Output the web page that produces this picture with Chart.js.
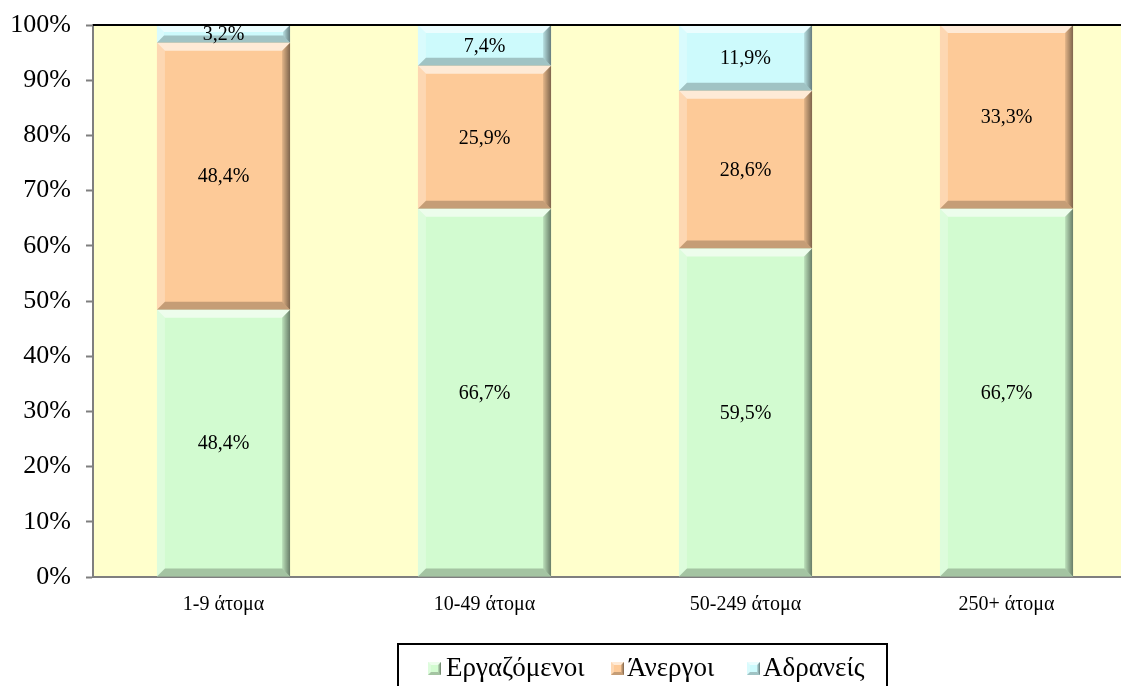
<!DOCTYPE html>
<html>
<head>
<meta charset="utf-8">
<script src="https://cdn.jsdelivr.net/npm/chart.js@4.4.1/dist/chart.umd.min.js"></script>
<style>
html,body{margin:0;padding:0;background:#fff;overflow:hidden;}
#wrap{position:relative;width:1145px;height:686px;}
</style>
</head>
<body>
<div id="wrap"><canvas id="c"></canvas></div>
<script>
const categories = ['1-9 άτομα', '10-49 άτομα', '50-249 άτομα', '250+ άτομα'];
const employed = [48.4, 66.7, 59.5, 66.7];
const unemployed = [48.4, 25.9, 28.6, 33.3];
const inactive = [3.2, 7.4, 11.9, 0];
const seriesNames = ['Εργαζόμενοι', 'Άνεργοι', 'Αδρανείς'];
const seriesColors = ['#d2fbd0', '#fdca98', '#cdfafc'];
const yTicks = [0,10,20,30,40,50,60,70,80,90,100];

const SERIF = '"Liberation Serif","Times New Roman",serif';

const bgPlugin = {
  id: 'bg',
  beforeDraw(chart) {
    const {ctx, chartArea: a} = chart;
    ctx.save();
    ctx.fillStyle = '#ffffcc';
    ctx.fillRect(a.left, a.top, a.right - a.left, a.bottom - a.top);
    ctx.restore();
  },
  afterDraw(chart) {
    const {ctx, chartArea: a} = chart;
    ctx.save();
    ctx.strokeStyle = '#000';
    ctx.lineWidth = 2;
    ctx.beginPath();
    ctx.moveTo(a.left, a.top);
    ctx.lineTo(a.right, a.top);
    ctx.stroke();
    ctx.restore();
  }
};

function bevel(ctx, l, t, r, b, s) {
  ctx.fillStyle = 'rgba(255,255,255,0.6)';
  ctx.beginPath();
  ctx.moveTo(l, t); ctx.lineTo(r, t); ctx.lineTo(r - s, t + s); ctx.lineTo(l + s, t + s); ctx.closePath(); ctx.fill();
  ctx.fillStyle = 'rgba(255,255,255,0.25)';
  ctx.beginPath();
  ctx.moveTo(l, t); ctx.lineTo(l + s, t + s); ctx.lineTo(l + s, b - s); ctx.lineTo(l, b); ctx.closePath(); ctx.fill();
  const g = ctx.createLinearGradient(r - s, 0, r, 0);
  g.addColorStop(0, 'rgba(0,0,0,0.1)');
  g.addColorStop(1, 'rgba(0,0,0,0.5)');
  ctx.fillStyle = g;
  ctx.beginPath();
  ctx.moveTo(r, t); ctx.lineTo(r, b); ctx.lineTo(r - s, b - s); ctx.lineTo(r - s, t + s); ctx.closePath(); ctx.fill();
  ctx.fillStyle = 'rgba(0,0,0,0.22)';
  ctx.beginPath();
  ctx.moveTo(l, b); ctx.lineTo(r, b); ctx.lineTo(r - s, b - s); ctx.lineTo(l + s, b - s); ctx.closePath(); ctx.fill();
}

const bevelPlugin = {
  id: 'bevel',
  afterDatasetsDraw(chart) {
    const ctx = chart.ctx;
    chart.data.datasets.forEach((ds, di) => {
      const meta = chart.getDatasetMeta(di);
      meta.data.forEach((bar, i) => {
        if (!ds.data[i]) return;
        const l = bar.x - bar.width / 2, r = bar.x + bar.width / 2;
        const t = Math.min(bar.y, bar.base), b = Math.max(bar.y, bar.base);
        const s = Math.min(8, (b - t) / 2.5);
        ctx.save();
        bevel(ctx, l, t, r, b, s);
        ctx.restore();
      });
    });
  }
};

const labelPlugin = {
  id: 'vals',
  afterDatasetsDraw(chart) {
    const ctx = chart.ctx;
    ctx.save();
    ctx.font = '20px ' + SERIF;
    ctx.fillStyle = '#000';
    ctx.textAlign = 'center';
    ctx.textBaseline = 'middle';
    chart.data.datasets.forEach((ds, di) => {
      const meta = chart.getDatasetMeta(di);
      meta.data.forEach((bar, i) => {
        const v = ds.data[i];
        if (!v) return;
        const txt = v.toFixed(1).replace('.', ',') + '%';
        ctx.fillText(txt, bar.x, (bar.y + bar.base) / 2 + 1);
      });
    });
    ctx.restore();
  }
};

const legendPlugin = {
  id: 'customLegend',
  afterDraw(chart) {
    const ctx = chart.ctx;
    ctx.save();
    ctx.strokeStyle = '#000';
    ctx.lineWidth = 2;
    ctx.strokeRect(398, 644, 489, 60);
    ctx.font = '27px ' + SERIF;
    ctx.textBaseline = 'middle';
    ctx.textAlign = 'left';
    const xs = [428, 611, 747];
    const txs = [446, 627, 763];
    const y = 668;
    chart.data.datasets.forEach((ds, di) => {
      const x = xs[di];
      ctx.fillStyle = ds.backgroundColor;
      ctx.fillRect(x, y - 6, 13, 13);
      bevel(ctx, x, y - 6, x + 13, y + 7, 3);
      ctx.fillStyle = '#000';
      ctx.fillText(ds.label, txs[di], y + 1);
    });
    ctx.restore();
  }
};

new Chart(document.getElementById('c'), {
  type: 'bar',
  data: {
    labels: categories,
    datasets: [
      {label: seriesNames[0], data: employed, backgroundColor: seriesColors[0]},
      {label: seriesNames[1], data: unemployed, backgroundColor: seriesColors[1]},
      {label: seriesNames[2], data: inactive, backgroundColor: seriesColors[2]}
    ]
  },
  options: {
    responsive: true,
    maintainAspectRatio: false,
    animation: false,
    layout: {padding: {left: 0, top: 25, right: 8, bottom: 0}},
    datasets: {bar: {categoryPercentage: 1, barPercentage: 0.51, borderWidth: 0}},
    plugins: {legend: {display: false}, tooltip: {enabled: false}},
    scales: {
      x: {
        stacked: true,
        grid: {display: false, drawTicks: false},
        border: {display: true, color: '#7f7f7f', width: 2},
        ticks: {font: {family: SERIF, size: 20}, color: '#000', padding: 16},
        afterFit(s) { s.height = 109; s.paddingLeft = 0; s.paddingRight = 0; }
      },
      y: {
        stacked: true,
        min: 0, max: 100,
        afterBuildTicks(s) { s.ticks = yTicks.map(v => ({value: v})); },
        grid: {drawOnChartArea: false, drawTicks: true, tickLength: 7, color: '#7f7f7f', tickWidth: 2},
        border: {display: true, color: '#7f7f7f', width: 2},
        ticks: {font: {family: SERIF, size: 26}, color: '#000', padding: 15, callback: v => v + '%'},
        afterFit(s) { s.width = 93; s.paddingTop = 0; s.paddingBottom = 0; }
      }
    }
  },
  plugins: [bgPlugin, bevelPlugin, labelPlugin, legendPlugin]
});
</script>
</body>
</html>
